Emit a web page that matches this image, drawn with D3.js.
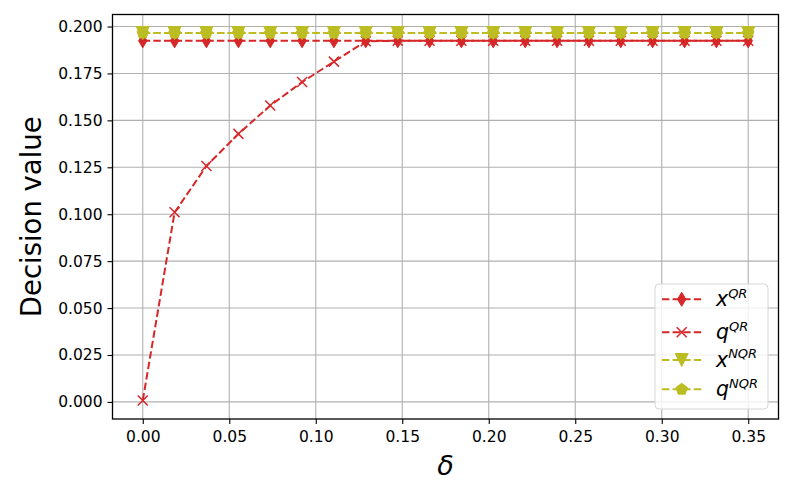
<!DOCTYPE html>
<html>
<head>
<meta charset="utf-8">
<script src="https://cdn.jsdelivr.net/npm/d3@7"></script>
<style>
  body { margin: 0; background: #fff; }
  svg text { font-family: "DejaVu Sans", sans-serif; }
</style>
</head>
<body>
<div id="chart"></div>
<script>
var width = 793;
var height = 496;

// delta values, 20 steps from 0 to 0.35
var deltas = [0, 0.0184, 0.0368, 0.0553, 0.0737, 0.0921, 0.1105, 0.1289, 0.1474, 0.1658,
    0.1842, 0.2026, 0.2211, 0.2395, 0.2579, 0.2763, 0.2947, 0.3132, 0.3316, 0.35];

var xQR = [0.1924, 0.1924, 0.1924, 0.1924, 0.1924, 0.1924, 0.1924, 0.1924, 0.1924, 0.1924,
    0.1924, 0.1924, 0.1924, 0.1924, 0.1924, 0.1924, 0.1924, 0.1924, 0.1924, 0.1924];
var qQR = [0.0008, 0.101, 0.1257, 0.1428, 0.1579, 0.1704, 0.1813, 0.1921, 0.1924, 0.1924,
    0.1924, 0.1924, 0.1924, 0.1924, 0.1924, 0.1924, 0.1924, 0.1924, 0.1924, 0.1924];
var xNQR = [0.1965, 0.1965, 0.1965, 0.1965, 0.1965, 0.1965, 0.1965, 0.1965, 0.1965, 0.1965,
    0.1965, 0.1965, 0.1965, 0.1965, 0.1965, 0.1965, 0.1965, 0.1965, 0.1965, 0.1965];
var qNQR = [0.1965, 0.1965, 0.1965, 0.1965, 0.1965, 0.1965, 0.1965, 0.1965, 0.1965, 0.1965,
    0.1965, 0.1965, 0.1965, 0.1965, 0.1965, 0.1965, 0.1965, 0.1965, 0.1965, 0.1965];

var xTicks = [0, 0.05, 0.10, 0.15, 0.20, 0.25, 0.30, 0.35];
var yTicks = [0, 0.025, 0.05, 0.075, 0.1, 0.125, 0.15, 0.175, 0.2];

var series = [
    { name: "x", sup: "QR", values: xQR, color: "#d62728", marker: "thin_diamond" },
    { name: "q", sup: "QR", values: qQR, color: "#d62728", marker: "x" },
    { name: "x", sup: "NQR", values: xNQR, color: "#bcbd22", marker: "tri_down" },
    { name: "q", sup: "NQR", values: qNQR, color: "#bcbd22", marker: "pentagon" }
];

var margin = { left: 112.5, right: 793 - 778.5, top: 14.5, bottom: 496 - 419 };
var pw = width - margin.left - margin.right;
var ph = height - margin.top - margin.bottom;

var x = d3.scaleLinear().domain([-0.0175, 0.3675]).range([0, pw]);
var y = d3.scaleLinear().domain([-0.0091, 0.2064]).range([ph, 0]);

var svg = d3.select("#chart").append("svg")
    .attr("width", width)
    .attr("height", height);

var g = svg.append("g").attr("transform", "translate(" + margin.left + "," + margin.top + ")");

// grid
g.append("g").selectAll("line").data(xTicks).enter().append("line")
    .attr("x1", d => x(d)).attr("x2", d => x(d))
    .attr("y1", 0).attr("y2", ph)
    .attr("stroke", "#b0b0b0").attr("stroke-width", 1.1);
g.append("g").selectAll("line").data(yTicks).enter().append("line")
    .attr("y1", d => y(d)).attr("y2", d => y(d))
    .attr("x1", 0).attr("x2", pw)
    .attr("stroke", "#b0b0b0").attr("stroke-width", 1.1);

// axes
var xAxis = g.append("g").attr("transform", "translate(0," + ph + ")")
    .call(d3.axisBottom(x).tickValues(xTicks).tickFormat(d3.format(".2f")).tickSize(5).tickPadding(5));
var yAxis = g.append("g")
    .call(d3.axisLeft(y).tickValues(yTicks).tickFormat(d3.format(".3f")).tickSize(5).tickPadding(5));
[xAxis, yAxis].forEach(function (a) {
    a.select(".domain").remove();
    a.selectAll("text").attr("font-size", 15.5).attr("fill", "#000")
        .style("font-family", "DejaVu Sans, sans-serif");
    a.selectAll("line").attr("stroke", "#000").attr("stroke-width", 1.1);
});
xAxis.selectAll("text").attr("dy", "0.85em");

// markers
function markerPath(type, s) {
    if (type === "thin_diamond") {
        return "M0," + (-s) + "L" + (s * 0.6) + ",0L0," + s + "L" + (-s * 0.6) + ",0Z";
    } else if (type === "x") {
        return "M" + (-s) + "," + (-s) + "L" + s + "," + s + "M" + (-s) + "," + s + "L" + s + "," + (-s);
    } else if (type === "tri_down") {
        return "M" + (-s) + "," + (-s) + "L" + s + "," + (-s) + "L0," + s + "Z";
    } else {
        var pts = [];
        for (var i = 0; i < 5; i++) {
            var a = -Math.PI / 2 + i * 2 * Math.PI / 5;
            pts.push([Math.cos(a) * s, Math.sin(a) * s]);
        }
        return "M" + pts.map(p => p[0].toFixed(2) + "," + p[1].toFixed(2)).join("L") + "Z";
    }
}
function markerSize(type) {
    return type === "x" ? 5 : type === "thin_diamond" ? 7 : type === "tri_down" ? 6.5 : 6;
}

var line = d3.line().x(d => x(d[0])).y(d => y(d[1]));

var plot = g.append("g");

series.forEach(function (s) {
    var pts = deltas.map((d, i) => [d, s.values[i]]);
    plot.append("path")
        .datum(pts)
        .attr("d", line)
        .attr("fill", "none")
        .attr("stroke", s.color)
        .attr("stroke-width", 2)
        .attr("stroke-dasharray", "7.4,3.2");
    plot.append("g").selectAll("path").data(pts).enter().append("path")
        .attr("transform", d => "translate(" + x(d[0]) + "," + y(d[1]) + ")")
        .attr("d", markerPath(s.marker, markerSize(s.marker)))
        .attr("fill", s.marker === "x" ? "none" : s.color)
        .attr("stroke", s.color)
        .attr("stroke-width", s.marker === "x" ? 1.5 : 1);
});

// frame
g.append("rect").attr("width", pw).attr("height", ph)
    .attr("fill", "none").attr("stroke", "#000").attr("stroke-width", 1.3);

// axis labels
svg.append("text")
    .attr("x", margin.left + pw / 2).attr("y", 475)
    .attr("text-anchor", "middle")
    .attr("font-size", 27).attr("font-style", "italic")
    .text("δ");
svg.append("text")
    .attr("transform", "translate(41," + (margin.top + ph / 2) + ") rotate(-90)")
    .attr("text-anchor", "middle")
    .attr("font-size", 27.5)
    .text("Decision value");

// legend
var leg = svg.append("g").attr("transform", "translate(655,284)");
leg.append("rect").attr("width", 113).attr("height", 125).attr("rx", 4)
    .attr("fill", "rgba(255,255,255,0.8)").attr("stroke", "#d6d6d6").attr("stroke-width", 1);
var rowY = [15.3, 48.3, 76, 105.3];
series.forEach(function (s, i) {
    var row = leg.append("g").attr("transform", "translate(0," + rowY[i] + ")");
    row.append("line").attr("x1", 7).attr("x2", 47).attr("y1", 0).attr("y2", 0)
        .attr("stroke", s.color).attr("stroke-width", 2).attr("stroke-dasharray", "7.4,3.2");
    row.append("path").attr("transform", "translate(26.7,0)")
        .attr("d", markerPath(s.marker, markerSize(s.marker)))
        .attr("fill", s.marker === "x" ? "none" : s.color)
        .attr("stroke", s.color)
        .attr("stroke-width", s.marker === "x" ? 1.5 : 1);
    var t = row.append("text").attr("x", 61).attr("y", 6.7).attr("font-size", 20.5);
    t.append("tspan").attr("font-style", "italic").text(s.name);
    t.append("tspan").attr("font-style", "italic").attr("font-size", 13).attr("dy", -8.5).text(s.sup);
});
</script>
</body>
</html>
